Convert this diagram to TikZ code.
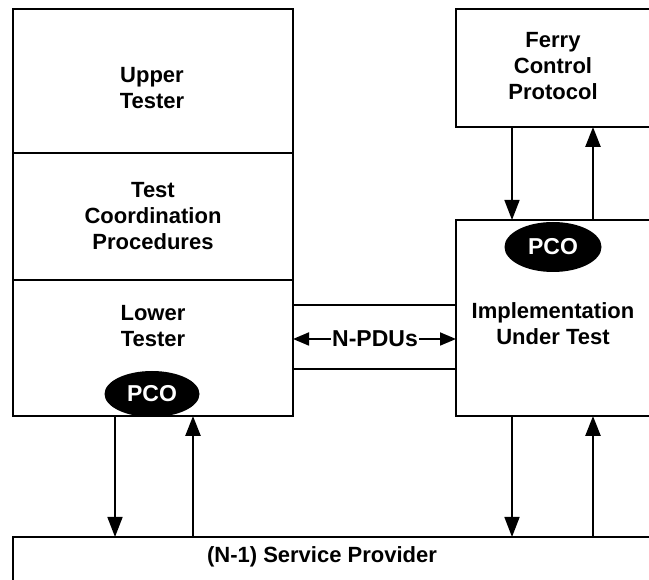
\documentclass[tikz,border=0pt]{standalone}
\usepackage{fontspec}
\setmainfont{Liberation Sans}
\usetikzlibrary{arrows.meta,shapes.geometric}
\begin{document}
\begin{tikzpicture}[x=1pt,y=-1pt,
  box/.style={draw,line width=1.6pt,rectangle,inner sep=0pt,outer sep=0pt},
  lbl/.style={align=center,font=\fontsize{22}{26}\selectfont\bfseries,inner sep=0pt},
  pco/.style={ellipse,fill=black,text=white,inner sep=0pt,font=\fontsize{23}{26}\selectfont\bfseries},
  dnarr/.style={line width=1.6pt,-{Triangle[length=20pt,width=15pt]}},
  uparr/.style={line width=2.6pt,-{Triangle[length=20pt,width=15pt]}},
  sidearr/.style={line width=1.8pt,-{Triangle[length=16pt,width=13pt]}}]
\useasboundingbox (0,0) rectangle (649,580);
\clip (0,0) rectangle (649,580);
\fill[white] (0,0) rectangle (649,580);
% boxes
\node[box,minimum width=280pt,minimum height=144pt] (ut) at (153,81) {};
\node[box,minimum width=280pt,minimum height=127pt] (tcp) at (153,216.5) {};
\node[box,minimum width=280pt,minimum height=136pt] (lt) at (153,348) {};
\node[box,minimum width=214pt,minimum height=118pt] (fcp) at (563,68) {};
\node[box,minimum width=214pt,minimum height=196pt] (iut) at (563,318) {};
\node[box,minimum width=657pt,minimum height=70pt] (sp) at (341.5,572) {};
% labels
\node[lbl] (utl) at (152,88) {Upper\\Tester};
\node[lbl] (tcpl) at (153,216) {Test\\Coordination\\Procedures};
\node[lbl] (ltl) at (153,326) {Lower\\Tester};
\node[lbl] (fcpl) at (553,66) {Ferry\\Control\\Protocol};
\node[lbl] (iutl) at (553,324) {Implementation\\Under Test};
\node[lbl] (spl) at (322,557) {(N-1) Service Provider};
% PCO
\node[pco,minimum width=95pt,minimum height=46pt] (pco1) at (152,394) {PCO};
\node[pco,minimum width=97pt,minimum height=50pt] (pco2) at (553,247) {PCO};
% x positions of vertical arrows
\coordinate (xa) at (115,0);
\coordinate (xb) at (193,0);
\coordinate (xc) at (512,0);
\coordinate (xd) at (593,0);
\draw[dnarr] (fcp.south -| xc) -- (iut.north -| xc);
\draw[uparr] (iut.north -| xd) -- (fcp.south -| xd);
\draw[dnarr] (lt.south -| xa) -- (sp.north -| xa);
\draw[uparr] (sp.north -| xb) -- (lt.south -| xb);
\draw[dnarr] (iut.south -| xc) -- (sp.north -| xc);
\draw[uparr] (sp.north -| xd) -- (iut.south -| xd);
% N-PDUs channel
\coordinate (ytop) at (0,305);
\coordinate (ybot) at (0,369);
\draw[line width=1.6pt] (lt.east |- ytop) -- (iut.west |- ytop);
\draw[line width=1.6pt] (lt.east |- ybot) -- (iut.west |- ybot);
\node[lbl,inner xsep=1pt,font=\fontsize{23}{26}\selectfont\bfseries] (npdu) at (375,339) {N-PDUs};
\draw[sidearr] (npdu.west) -- (npdu.west -| lt.east);
\draw[sidearr] (npdu.east) -- (npdu.east -| iut.west);
\end{tikzpicture}
\end{document}
